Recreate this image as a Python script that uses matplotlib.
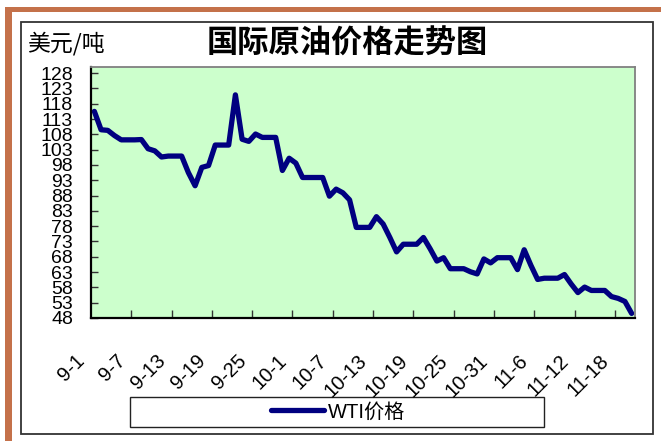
import matplotlib
matplotlib.use("Agg")
import matplotlib.pyplot as plt
from matplotlib.patches import Rectangle
from matplotlib.transforms import ScaledTranslation
import numpy as np

plt.rcParams['font.family'] = ['Liberation Sans', 'Noto Sans CJK SC', 'DejaVu Sans']

W, H = 661, 441

# WTI 每日价格 9-1 ~ 11-20
prices = [115.5, 109.5, 109.3, 107.6, 106.2, 106.2, 106.2, 106.3, 103.3, 102.6,
          100.6, 100.9, 100.9, 100.9, 95.5, 91.2, 97.2, 97.8, 104.5, 104.5,
          104.5, 120.9, 106.4, 105.7, 108.1, 107.0, 107.0, 107.0, 96.2, 100.2,
          98.6, 93.9, 93.9, 93.9, 93.9, 87.8, 90.1, 88.9, 86.6, 77.6,
          77.6, 77.6, 81.1, 78.7, 74.3, 69.6, 72.1, 72.1, 72.1, 74.3,
          70.6, 66.6, 67.7, 64.1, 64.1, 64.1, 63.1, 62.4, 67.3, 66.0,
          67.7, 67.7, 67.7, 63.8, 70.3, 65.2, 60.6, 61.0, 61.0, 61.0,
          62.2, 59.1, 56.3, 58.1, 57.0, 57.0, 57.0, 55.0, 54.4, 53.4,
          49.5]
tick_labels = ['9-1', '9-7', '9-13', '9-19', '9-25', '10-1', '10-7',
               '10-13', '10-19', '10-25', '10-31', '11-6', '11-12', '11-18']
y_ticks = list(range(48, 129, 5))


def fx(x):
    return x / W


def fy(y):
    return 1 - y / H


fig = plt.figure(figsize=(W / 100, H / 100), dpi=100)
fig.patch.set_facecolor('white')

# 外框
orange = '#C4714A'
fig.patches.append(Rectangle((fx(5), fy(12)), fx(W) - fx(5), fy(7) - fy(12),
                             transform=fig.transFigure, facecolor=orange, edgecolor='none'))
fig.patches.append(Rectangle((fx(5), 0), fx(12) - fx(5), fy(7),
                             transform=fig.transFigure, facecolor=orange, edgecolor='none'))
fig.patches.append(Rectangle((fx(20.5), fy(433.5)), fx(652.5) - fx(20.5), fy(21.5) - fy(433.5),
                             transform=fig.transFigure, facecolor='none', edgecolor='#333333', lw=1.3))
# 图例框
fig.patches.append(Rectangle((fx(129.5), fy(427)), fx(544) - fx(129.5), fy(397) - fy(427),
                             transform=fig.transFigure, facecolor='white', edgecolor='#222222',
                             lw=1, zorder=-1))

ax = fig.add_axes([fx(91), fy(318), fx(635) - fx(91), fy(67) - fy(318)])
ax.set_facecolor('#CCFFCC')

n = len(prices)
xs = np.arange(n) + 0.5
ax.plot(xs, prices, color='#000080', lw=3.8, solid_capstyle='round', solid_joinstyle='round',
        label='WTI价格')

ax.set_xlim(0, n)
ax.set_ylim(48, 130)
ax.set_yticks(y_ticks)
ax.set_yticklabels([str(v) for v in y_ticks], fontsize=14)
ax.set_xticks(range(6, n, 6))
ax.set_xticklabels([])
ax.tick_params(axis='y', direction='in', length=5, width=1, color='#333333', pad=13)
ax.tick_params(axis='x', direction='in', length=6, width=1, color='#333333')

for side in ['left', 'bottom']:
    ax.spines[side].set_color('black')
    ax.spines[side].set_linewidth(1.6)
for side in ['top', 'right']:
    ax.spines[side].set_color('#808080')
    ax.spines[side].set_linewidth(1.3)

# 日期标签
off = ScaledTranslation(-19 / 100, -33 / 100, fig.dpi_scale_trans)
for k, lab in enumerate(tick_labels):
    ax.text(k * 6 + 0.5, 0, lab, transform=ax.get_xaxis_transform() + off,
            rotation=45, rotation_mode='anchor', ha='right', va='top', fontsize=14.5)

fig.text(fx(347.5), fy(44), '国际原油价格走势图', ha='center', va='center',
         fontsize=22.5, fontweight='bold', family=['Noto Sans CJK SC', 'DejaVu Sans'])
fig.text(fx(27), fy(44), '美元/吨', ha='left', va='center', fontsize=16.5,
         family=['Noto Sans CJK SC', 'DejaVu Sans'])

ax.legend(loc='center', bbox_to_anchor=(fx(338), fy(412)), bbox_transform=fig.transFigure,
          frameon=False, fontsize=14.5, handlelength=2.6, handletextpad=0.2,
          borderpad=0, borderaxespad=0)

fig.savefig('out.png', dpi=100)
